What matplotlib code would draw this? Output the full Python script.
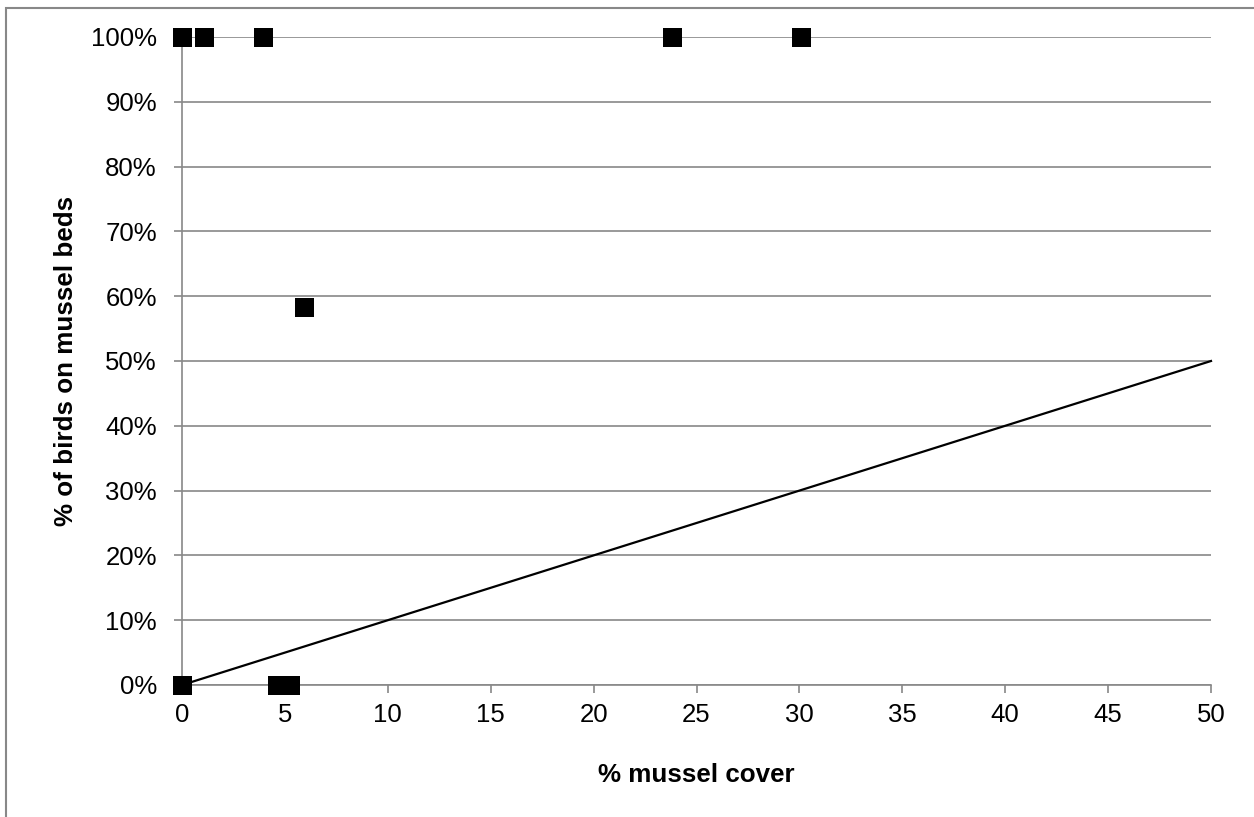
import matplotlib.pyplot as plt
from matplotlib.patches import Rectangle
from matplotlib.ticker import FuncFormatter

plt.rcParams['font.family'] = ['Liberation Sans', 'DejaVu Sans']

# observed sites: % mussel cover vs share of birds on mussel beds
cover = [0.0, 1.05, 3.95, 23.8, 30.1, 5.95, 0.0, 4.6, 5.25]
birds_pct = [100, 100, 100, 100, 100, 58.3, 0, 0, 0]

# 1:1 reference line
line_x = [0, 50]
line_y = [0, 50]

x_ticks = list(range(0, 55, 5))
y_ticks = list(range(0, 110, 10))

fig = plt.figure(figsize=(12.54, 8.17), dpi=100)
ax = fig.add_axes([182 / 1254, 1 - 685 / 817, (1211 - 182) / 1254, (685 - 37) / 817])

# outer chart frame (clipped at right and bottom like the original)
fig.patches.append(Rectangle((6 / 1254, -0.05), 1.2, 1 - 8 / 817 + 0.05,
                             transform=fig.transFigure, fill=False,
                             edgecolor='#888888', linewidth=1.5))

ax.plot(line_x, line_y, color='black', linewidth=1.6, zorder=3, clip_on=False)
ax.scatter(cover, birds_pct, marker='s', s=(19 * 0.72) ** 2, color='black',
           zorder=4, clip_on=False, linewidths=0)

ax.set_xlim(0, 50)
ax.set_ylim(0, 100)
ax.set_xticks(x_ticks)
ax.set_yticks(y_ticks)
ax.yaxis.set_major_formatter(FuncFormatter(lambda v, p: f"{int(v)}%"))

ax.grid(axis='y', color='#888888', linewidth=1.2)
ax.set_axisbelow(True)
for s in ['top', 'right']:
    ax.spines[s].set_visible(False)
for s in ['left', 'bottom']:
    ax.spines[s].set_color('#888888')
    ax.spines[s].set_linewidth(1.2)

ax.tick_params(axis='both', colors='#888888', labelcolor='black', labelsize=18.5,
               length=6, width=1.2, direction='out')
ax.tick_params(axis='x', pad=7)
ax.tick_params(axis='y', pad=12)

ax.set_xlabel('% mussel cover', fontsize=18.7, fontweight='bold', labelpad=26)
ax.set_ylabel('% of birds on mussel beds', fontsize=18.7, fontweight='bold', labelpad=9)

fig.savefig('out.png', dpi=100)
